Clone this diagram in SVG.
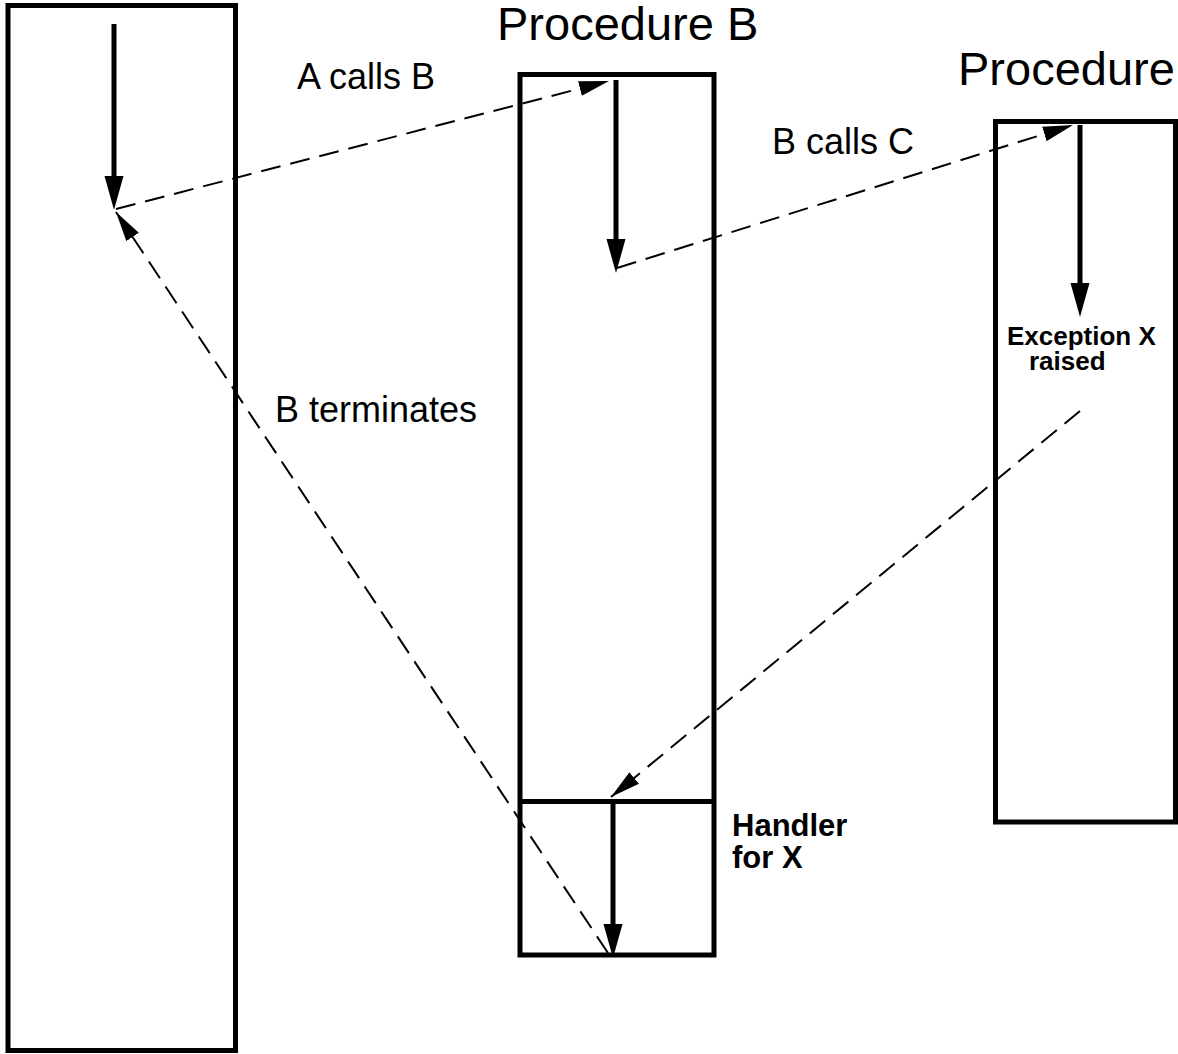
<svg xmlns="http://www.w3.org/2000/svg" width="1178" height="1054" viewBox="0 0 1178 1054">
<style>
.box{fill:none;stroke:#000;stroke-width:5}
.flow{fill:none;stroke:#000;stroke-width:5;marker-end:url(#solidHead)}
.dash{fill:none;stroke:#000;stroke-width:2;stroke-dasharray:20 10;marker-end:url(#dashHead)}
.title{font-family:"Liberation Sans",Arial,sans-serif;font-size:47px;fill:#000}
.lbl{font-family:"Liberation Sans",Arial,sans-serif;font-size:36px;fill:#000}
.bold{font-family:"Liberation Sans",Arial,sans-serif;font-weight:bold;fill:#000}
</style>
<defs>
<marker id="solidHead" markerUnits="userSpaceOnUse" viewBox="0 0 34 20" refX="22" refY="10" markerWidth="34" markerHeight="20" orient="auto">
<path d="M0,0.5 L34,10 L0,19.5 z" fill="#000"/>
</marker>
<marker id="dashHead" markerUnits="userSpaceOnUse" viewBox="0 0 30 16" refX="30" refY="8" markerWidth="30" markerHeight="16" orient="auto">
<path d="M0,0.5 L30,8 L0,15.5 z" fill="#000"/>
</marker>
</defs>
<rect width="1178" height="1054" fill="#fff"/>
<g id="procA">
<rect class="box" x="8" y="5.5" width="227.5" height="1045"/>
</g>
<g id="procB">
<rect class="box" x="520" y="74.5" width="194" height="880.5"/>
<line x1="520" y1="801.5" x2="714" y2="801.5" stroke="#000" stroke-width="5"/>
<text class="title" x="497" y="40">Procedure B</text>
<text class="bold" x="732" y="836" font-size="31">Handler</text>
<text class="bold" x="732" y="868" font-size="31">for X</text>
</g>
<g id="procC">
<rect class="box" x="995.5" y="121.5" width="180" height="700.5"/>
<text class="title" x="958" y="85">Procedure</text>
<text class="bold" x="1007" y="345" font-size="26">Exception X</text>
<text class="bold" x="1029" y="370" font-size="26">raised</text>
</g>
<g id="connectors">
<line class="flow" x1="114" y1="24" x2="114" y2="198"/>
<line class="flow" x1="616" y1="80" x2="616" y2="261"/>
<line class="flow" x1="1080" y1="125" x2="1080" y2="305"/>
<line class="flow" x1="613" y1="801" x2="613" y2="946"/>
<line class="dash" x1="116" y1="209" x2="609" y2="81"/>
<line class="dash" x1="617" y1="268" x2="1073" y2="125"/>
<line class="dash" x1="1080" y1="411" x2="611" y2="797"/>
<line class="dash" x1="608" y1="953" x2="116" y2="212"/>
<text class="lbl" x="297" y="89">A calls B</text>
<text class="lbl" x="772" y="154">B calls C</text>
<text class="lbl" x="275" y="422">B terminates</text>
</g>
</svg>
